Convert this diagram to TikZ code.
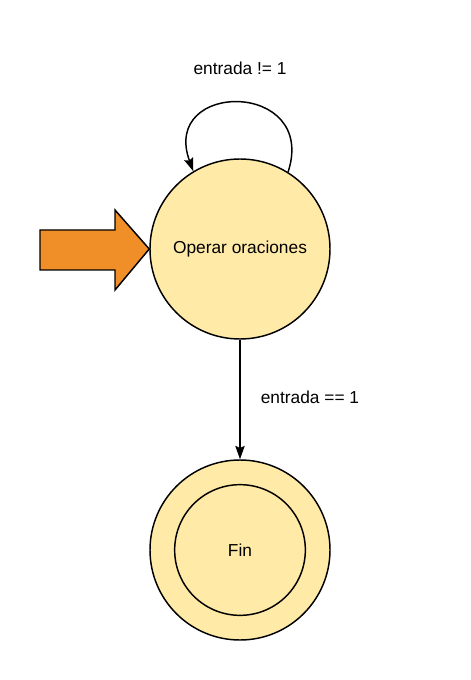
\documentclass[tikz,border=0pt]{standalone}
\usepackage{fontspec}
\setmainfont{Liberation Sans}
\usetikzlibrary{arrows.meta, positioning}
\definecolor{cfill}{HTML}{FFEAA7}
\definecolor{corange}{HTML}{F08E27}
\tikzset{
  every picture/.style={line width=1.1pt},
  state/.style={circle, draw=black, fill=cfill, minimum size=#1, inner sep=0pt, font=\fontsize{13}{15}\selectfont},
  state/.default=135pt,
  arrow/.style={-{Stealth[length=10pt, width=7pt, inset=1.5pt]}, draw=black},
  label/.style={font=\fontsize{13}{15}\selectfont},
}
\begin{document}
\begin{tikzpicture}[x=0.75pt, y=-0.75pt]
  \useasboundingbox (0,0) rectangle (470,680);
  \node[state] (op) at (240,249) {Operar oraciones};
  \node[state] (fin) at (240,550) {};
  \node[state=98pt] (finin) at (240,550) {Fin};
  % self loop
  \draw[arrow] (op.58) .. controls (318,80) and (160,80) .. (op.121);
  \node[label] (lblloop) at (240,68) {entrada != 1};
  % start arrow
  \draw[fill=corange] (40,230) -- (115,230) -- (115,210) -- (op.west) -- (115,290) -- (115,270) -- (40,270) -- cycle;
  % transition
  \draw[arrow] (op.south) -- (fin.north);
  \node[label] (lbldown) at (310,397) {entrada == 1};
\end{tikzpicture}
\end{document}
